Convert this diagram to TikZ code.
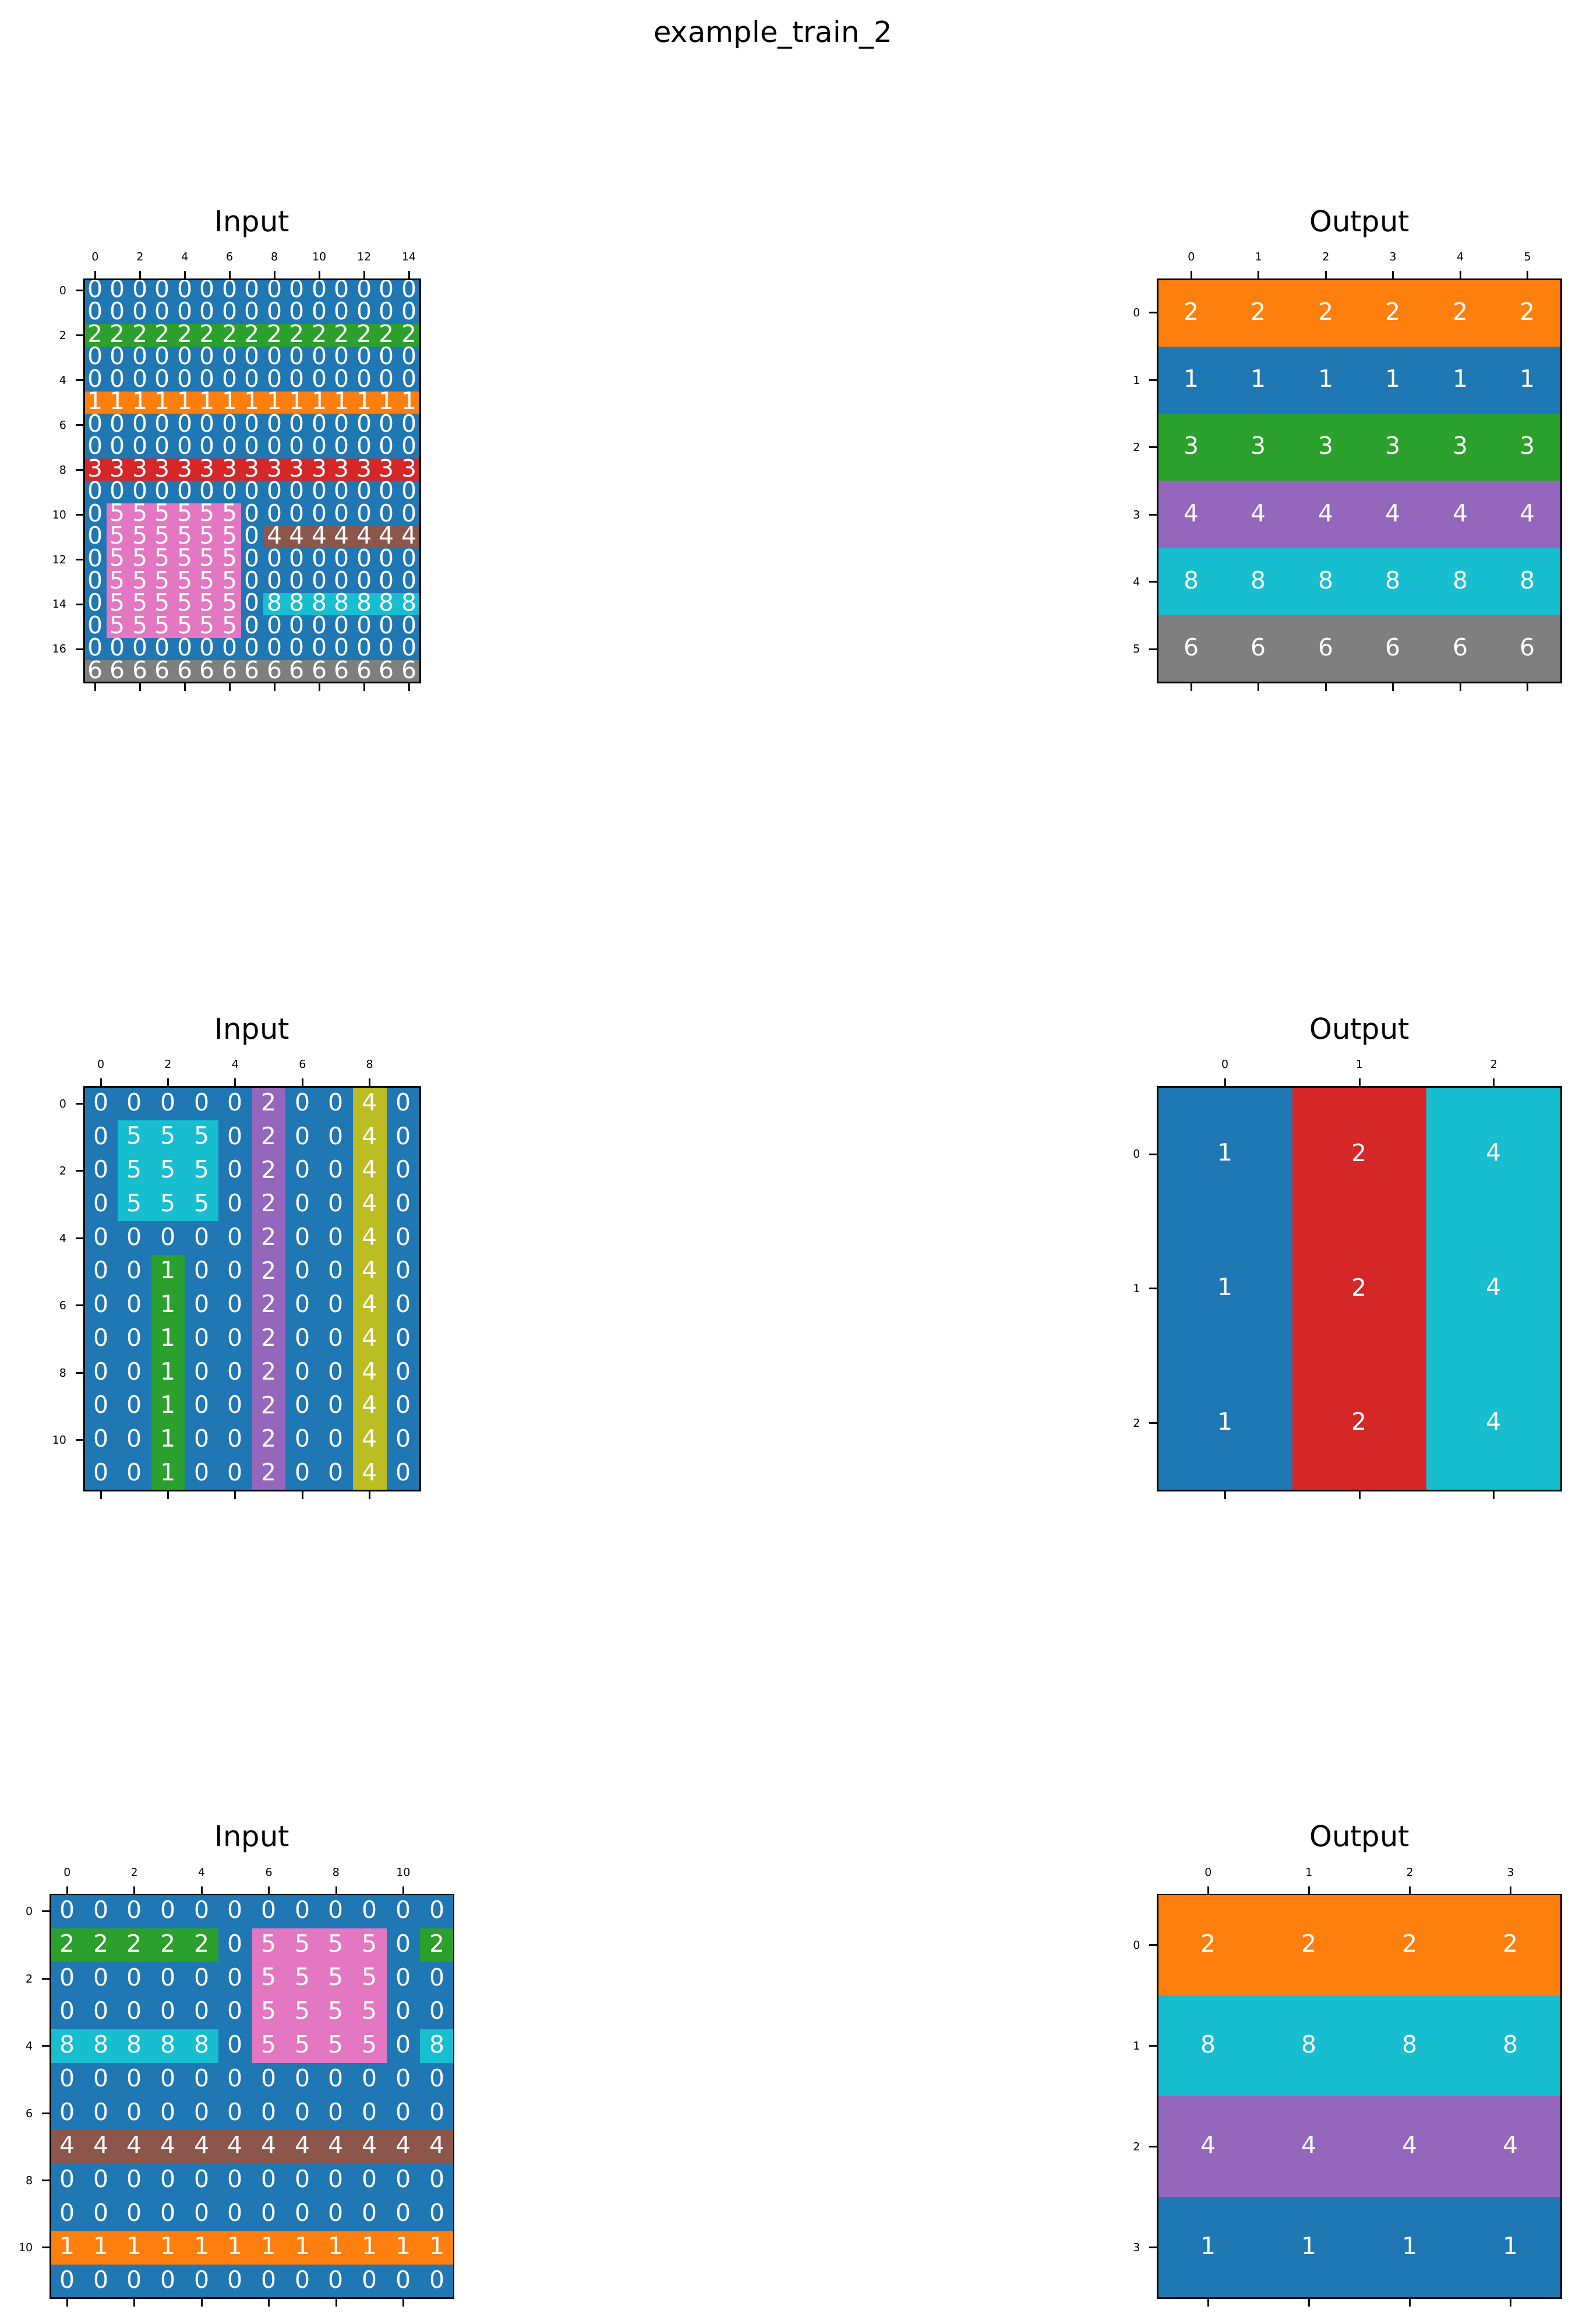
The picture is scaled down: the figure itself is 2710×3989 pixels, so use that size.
\documentclass[tikz,border=0pt]{standalone}
\usepackage{fontspec}
\setmainfont{DejaVu Sans}
\definecolor{cB}{HTML}{1F77B4}
\definecolor{cO}{HTML}{FF7F0E}
\definecolor{cG}{HTML}{2CA02C}
\definecolor{cR}{HTML}{D62728}
\definecolor{cP}{HTML}{9467BD}
\definecolor{cN}{HTML}{8C564B}
\definecolor{cK}{HTML}{E377C2}
\definecolor{cY}{HTML}{7F7F7F}
\definecolor{cL}{HTML}{BCBD22}
\definecolor{cC}{HTML}{17BECF}
\tikzset{
  celltxt/.style={text=white,font=\fontsize{41}{50}\selectfont,inner sep=0pt,yshift=3pt},
  ticklab/.style={text=black,font=\fontsize{19}{22}\selectfont,inner sep=0pt},
  titletxt/.style={text=black,font=\fontsize{49.5}{60}\selectfont,inner sep=0pt,anchor=base},
  spine/.style={draw=black,line width=2.9pt},
  tickmark/.style={draw=black,line width=3pt,line cap=butt}
}
\def\cellparse#1#2\relax{\def\cellcol{c#1}\def\cv{#2}}
% #1 name, #2 left, #3 top, #4 cell, #5 data
\newcommand{\drawgrid}[5]{%
  \foreach \rowdata [count=\ri from 0] in {#5} {%
    \foreach \cellitem [count=\ci from 0] in \rowdata {%
      \expandafter\cellparse\cellitem\relax
      \fill[fill=\cellcol] ({#2+\ci*#4},{#3+\ri*#4}) rectangle ++({#4+0.6},{#4+0.6});
      \node[celltxt] (#1-\ri-\ci) at ({#2+(\ci+0.5)*#4},{#3+(\ri+0.5)*#4}) {\cv};
    }%
  }%
}
% #1 name, #2 left, #3 top, #4 cell, #5 list, #6 bottom
\newcommand{\myxticks}[6]{%
  \foreach \k in {#5} {%
    \draw[tickmark] ({#2+(\k+0.5)*#4},#3) -- ++(0,-14.5);
    \draw[tickmark] ({#2+(\k+0.5)*#4},#6) -- ++(0,14.5);
    \node[ticklab,anchor=base] (#1-xt-\k) at ({#2+(\k+0.5)*#4},{#3-32}) {\k};
  }%
}
% #1 name, #2 left, #3 top, #4 cell, #5 list
\newcommand{\myyticks}[5]{%
  \foreach \k in {#5} {%
    \draw[tickmark] (#2,{#3+(\k+0.5)*#4}) -- ++(-14.5,0);
    \node[ticklab,anchor=east] (#1-yt-\k) at ({#2-30},{#3+(\k+0.5)*#4}) {\k};
  }%
}
\begin{document}
\begin{tikzpicture}[x=1pt,y=-1pt]
\useasboundingbox (0,0) rectangle (2710,3989);
\fill[white] (0,0) rectangle (2710,3989);
\node[titletxt] (suptitle) at (1327,72) {example\_train\_2};

% ---------- Row 1 ----------
\drawgrid{ga}{144.2}{479.2}{38.472}{%
{B0,B0,B0,B0,B0,B0,B0,B0,B0,B0,B0,B0,B0,B0,B0},
{B0,B0,B0,B0,B0,B0,B0,B0,B0,B0,B0,B0,B0,B0,B0},
{G2,G2,G2,G2,G2,G2,G2,G2,G2,G2,G2,G2,G2,G2,G2},
{B0,B0,B0,B0,B0,B0,B0,B0,B0,B0,B0,B0,B0,B0,B0},
{B0,B0,B0,B0,B0,B0,B0,B0,B0,B0,B0,B0,B0,B0,B0},
{O1,O1,O1,O1,O1,O1,O1,O1,O1,O1,O1,O1,O1,O1,O1},
{B0,B0,B0,B0,B0,B0,B0,B0,B0,B0,B0,B0,B0,B0,B0},
{B0,B0,B0,B0,B0,B0,B0,B0,B0,B0,B0,B0,B0,B0,B0},
{R3,R3,R3,R3,R3,R3,R3,R3,R3,R3,R3,R3,R3,R3,R3},
{B0,B0,B0,B0,B0,B0,B0,B0,B0,B0,B0,B0,B0,B0,B0},
{B0,K5,K5,K5,K5,K5,K5,B0,B0,B0,B0,B0,B0,B0,B0},
{B0,K5,K5,K5,K5,K5,K5,B0,N4,N4,N4,N4,N4,N4,N4},
{B0,K5,K5,K5,K5,K5,K5,B0,B0,B0,B0,B0,B0,B0,B0},
{B0,K5,K5,K5,K5,K5,K5,B0,B0,B0,B0,B0,B0,B0,B0},
{B0,K5,K5,K5,K5,K5,K5,B0,C8,C8,C8,C8,C8,C8,C8},
{B0,K5,K5,K5,K5,K5,K5,B0,B0,B0,B0,B0,B0,B0,B0},
{B0,B0,B0,B0,B0,B0,B0,B0,B0,B0,B0,B0,B0,B0,B0},
{Y6,Y6,Y6,Y6,Y6,Y6,Y6,Y6,Y6,Y6,Y6,Y6,Y6,Y6,Y6}}
\draw[spine] (144.2,479.2) rectangle (721.3,1171.7);
\myxticks{ga}{144.2}{479.2}{38.472}{0,2,...,14}{1171.7}
\myyticks{ga}{144.2}{479.2}{38.472}{0,2,...,16}
\node[titletxt] (ta) at (432.8,397) {Input};

\drawgrid{gb}{1987.75}{479.2}{115.417}{%
{O2,O2,O2,O2,O2,O2},
{B1,B1,B1,B1,B1,B1},
{G3,G3,G3,G3,G3,G3},
{P4,P4,P4,P4,P4,P4},
{C8,C8,C8,C8,C8,C8},
{Y6,Y6,Y6,Y6,Y6,Y6}}
\draw[spine] (1987.75,479.2) rectangle (2680.25,1171.7);
\myxticks{gb}{1987.75}{479.2}{115.417}{0,1,...,5}{1171.7}
\myyticks{gb}{1987.75}{479.2}{115.417}{0,1,...,5}
\node[titletxt] (tb) at (2334,397) {Output};

% ---------- Row 2 ----------
\drawgrid{gc}{144.2}{1865.6}{57.708}{%
{B0,B0,B0,B0,B0,P2,B0,B0,L4,B0},
{B0,C5,C5,C5,B0,P2,B0,B0,L4,B0},
{B0,C5,C5,C5,B0,P2,B0,B0,L4,B0},
{B0,C5,C5,C5,B0,P2,B0,B0,L4,B0},
{B0,B0,B0,B0,B0,P2,B0,B0,L4,B0},
{B0,B0,G1,B0,B0,P2,B0,B0,L4,B0},
{B0,B0,G1,B0,B0,P2,B0,B0,L4,B0},
{B0,B0,G1,B0,B0,P2,B0,B0,L4,B0},
{B0,B0,G1,B0,B0,P2,B0,B0,L4,B0},
{B0,B0,G1,B0,B0,P2,B0,B0,L4,B0},
{B0,B0,G1,B0,B0,P2,B0,B0,L4,B0},
{B0,B0,G1,B0,B0,P2,B0,B0,L4,B0}}
\draw[spine] (144.2,1865.6) rectangle (721.3,2558.1);
\myxticks{gc}{144.2}{1865.6}{57.708}{0,2,...,8}{2558.1}
\myyticks{gc}{144.2}{1865.6}{57.708}{0,2,...,10}
\node[titletxt] (tc) at (432.8,1783.4) {Input};

\drawgrid{gd}{1987.75}{1865.6}{230.833}{%
{B1,R2,C4},
{B1,R2,C4},
{B1,R2,C4}}
\draw[spine] (1987.75,1865.6) rectangle (2680.25,2558.1);
\myxticks{gd}{1987.75}{1865.6}{230.833}{0,1,2}{2558.1}
\myyticks{gd}{1987.75}{1865.6}{230.833}{0,1,2}
\node[titletxt] (td) at (2334,1783.4) {Output};

% ---------- Row 3 ----------
\drawgrid{ge}{86.5}{3252}{57.708}{%
{B0,B0,B0,B0,B0,B0,B0,B0,B0,B0,B0,B0},
{G2,G2,G2,G2,G2,B0,K5,K5,K5,K5,B0,G2},
{B0,B0,B0,B0,B0,B0,K5,K5,K5,K5,B0,B0},
{B0,B0,B0,B0,B0,B0,K5,K5,K5,K5,B0,B0},
{C8,C8,C8,C8,C8,B0,K5,K5,K5,K5,B0,C8},
{B0,B0,B0,B0,B0,B0,B0,B0,B0,B0,B0,B0},
{B0,B0,B0,B0,B0,B0,B0,B0,B0,B0,B0,B0},
{N4,N4,N4,N4,N4,N4,N4,N4,N4,N4,N4,N4},
{B0,B0,B0,B0,B0,B0,B0,B0,B0,B0,B0,B0},
{B0,B0,B0,B0,B0,B0,B0,B0,B0,B0,B0,B0},
{O1,O1,O1,O1,O1,O1,O1,O1,O1,O1,O1,O1},
{B0,B0,B0,B0,B0,B0,B0,B0,B0,B0,B0,B0}}
\draw[spine] (86.5,3252) rectangle (779,3944.5);
\myxticks{ge}{86.5}{3252}{57.708}{0,2,...,10}{3944.5}
\myyticks{ge}{86.5}{3252}{57.708}{0,2,...,10}
\node[titletxt] (te) at (432.8,3169.8) {Input};

\drawgrid{gf}{1987.75}{3252}{173.125}{%
{O2,O2,O2,O2},
{C8,C8,C8,C8},
{P4,P4,P4,P4},
{B1,B1,B1,B1}}
\draw[spine] (1987.75,3252) rectangle (2680.25,3944.5);
\myxticks{gf}{1987.75}{3252}{173.125}{0,1,2,3}{3944.5}
\myyticks{gf}{1987.75}{3252}{173.125}{0,1,2,3}
\node[titletxt] (tf) at (2334,3169.8) {Output};
\end{tikzpicture}
\end{document}
